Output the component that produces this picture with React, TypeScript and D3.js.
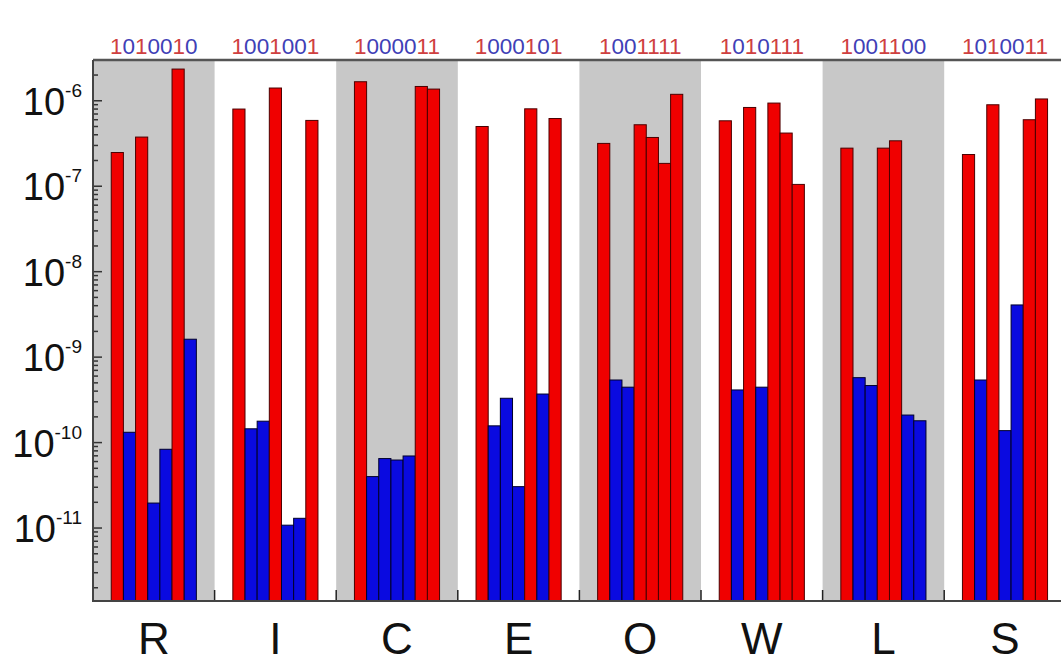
import React from 'react';
import * as d3 from 'd3';

const letters = ['R', 'I', 'C', 'E', 'O', 'W', 'L', 'S'];
const codes = ['1010010', '1001001', '1000011', '1000101', '1001111', '1010111', '1001100', '1010011'];
const valuesR = [2.48e-7, 1.32e-10, 3.76e-7, 1.96e-11, 8.35e-11, 2.35e-6, 1.62e-9];
const valuesI = [8.0e-7, 1.45e-10, 1.78e-10, 1.41e-6, 1.08e-11, 1.3e-11, 5.89e-7];
const valuesC = [1.67e-6, 4.0e-11, 6.5e-11, 6.25e-11, 6.97e-11, 1.47e-6, 1.37e-6];
const valuesE = [5.0e-7, 1.57e-10, 3.3e-10, 3.05e-11, 8.05e-7, 3.7e-10, 6.2e-7];
const valuesO = [3.17e-7, 5.4e-10, 4.45e-10, 5.24e-7, 3.72e-7, 1.85e-7, 1.19e-6];
const valuesW = [5.83e-7, 4.13e-10, 8.35e-7, 4.45e-10, 9.4e-7, 4.19e-7, 1.05e-7];
const valuesL = [2.79e-7, 5.75e-10, 4.65e-10, 2.79e-7, 3.4e-7, 2.1e-10, 1.8e-10];
const valuesS = [2.35e-7, 5.4e-10, 8.98e-7, 1.38e-10, 4.08e-9, 6.0e-7, 1.05e-6];
const groupValues = [valuesR, valuesI, valuesC, valuesE, valuesO, valuesW, valuesL, valuesS];
const yTickExponents = [-6, -7, -8, -9, -10, -11];

const W = 1061;
const H = 664;
const left = 93;
const top = 60;
const bottom = 601;
const groupW = 121.6;
const font = 'Liberation Sans, Arial, Helvetica, sans-serif';

export default function App() {
  const x = d3.scaleBand<string>().domain(letters).range([left, left + groupW * letters.length]).padding(0);
  const inner = d3.scaleBand<number>().domain(d3.range(7)).range([0, x.bandwidth()]).paddingInner(0).paddingOuter(1.5);
  const y = d3.scaleLog().domain([1.4e-12, 3.0e-6]).range([bottom, top]);

  const minor: number[] = [];
  for (let e = -12; e <= -6; e++) {
    for (let m = 1; m <= 9; m++) {
      const v = m * Math.pow(10, e);
      if (v >= 1.4e-12 && v <= 3.0e-6) minor.push(v);
    }
  }

  return (
    <svg width={W} height={H} style={{ position: 'absolute', left: 0, top: 0, background: '#fff' }} fontFamily={font}>
      {letters.map((l, i) =>
        i % 2 === 0 ? (
          <rect key={'bg' + l} x={x(l)} y={top} width={Math.min(x.bandwidth(), W - (x(l) as number))} height={bottom - top} fill="#c8c8c8" />
        ) : null
      )}
      {letters.map((l, gi) =>
        groupValues[gi].map((v, bi) => {
          const isOne = codes[gi][bi] === '1';
          const bx = (x(l) as number) + (inner(bi) as number);
          return (
            <rect
              key={l + bi}
              x={bx}
              y={y(v)}
              width={inner.bandwidth()}
              height={bottom - y(v)}
              fill={isOne ? '#f00000' : '#0a0ae0'}
              stroke={isOne ? '#4a0000' : '#00002a'}
              strokeWidth={1}
            />
          );
        })
      )}
      {minor.map((v, i) => {
        const isMajor = Math.abs(Math.log10(v) - Math.round(Math.log10(v))) < 1e-9;
        return (
          <line key={'yt' + i} x1={left} x2={left + (isMajor ? 9 : 5)} y1={y(v)} y2={y(v)} stroke="#333" strokeWidth={1.5} />
        );
      })}
      {letters.slice(1).map((l) => (
        <line key={'xt' + l} x1={x(l)} x2={x(l)} y1={bottom} y2={bottom - 11} stroke="#222" strokeWidth={1.5} />
      ))}
      <line x1={left} x2={W} y1={top} y2={top} stroke="#555" strokeWidth={2.5} />
      <line x1={left} x2={left} y1={top} y2={bottom} stroke="#444" strokeWidth={2} />
      <line x1={left - 1} x2={W} y1={bottom} y2={bottom} stroke="#444" strokeWidth={2} />
      {yTickExponents.map((e) => (
        <text key={'yl' + e} x={82} y={y(Math.pow(10, e)) + 14} textAnchor="end" fill="#111">
          <tspan fontSize={38}>10</tspan>
          <tspan fontSize={19} dy={-18}>{String(e)}</tspan>
        </text>
      ))}
      {letters.map((l) => (
        <text key={'xl' + l} x={(x(l) as number) + x.bandwidth() / 2} y={654} textAnchor="middle" fontSize={44} fill="#111">
          {l}
        </text>
      ))}
      {letters.map((l, gi) => (
        <text key={'code' + l} x={(x(l) as number) + x.bandwidth() / 2} y={54} textAnchor="middle" fontSize={22.5}>
          {codes[gi].split('').map((d, di) => (
            <tspan key={di} fill={d === '1' ? '#cf4040' : '#4040b6'}>{d}</tspan>
          ))}
        </text>
      ))}
    </svg>
  );
}
